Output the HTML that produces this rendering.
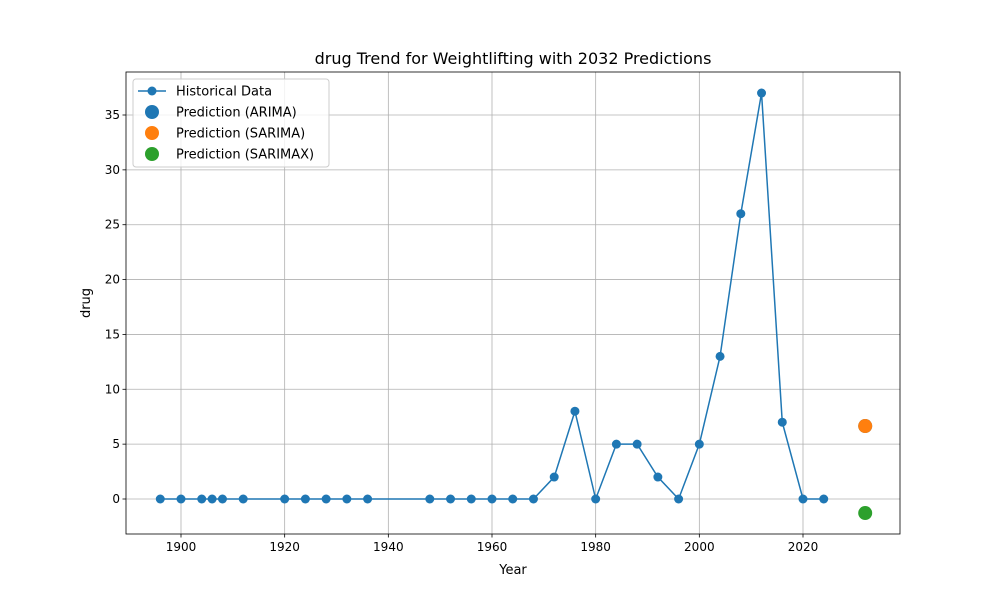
<!DOCTYPE html>
<html><head><meta charset="utf-8"><style>body{margin:0;background:#fff}svg{display:block;font-family:"DejaVu Sans","Liberation Sans",sans-serif}</style></head>
<body>
<svg id="c" width="1000" height="600"></svg>
<script>
const years=[1896,1900,1904,1906,1908,1912,1920,1924,1928,1932,1936,1948,1952,1956,1960,1964,1968,1972,1976,1980,1984,1988,1992,1996,2000,2004,2008,2012,2016,2020,2024];
const values=[0,0,0,0,0,0,0,0,0,0,0,0,0,0,0,0,0,2,8,0,5,5,2,0,5,13,26,37,7,0,0];
const predYear=2032;
const predArima=6.65;
const predSarima=6.65;
const predSarimax=-1.28;
const xTicks=[1900,1920,1940,1960,1980,2000,2020];
const yTicks=[0,5,10,15,20,25,30,35];
const L=126,R=900,T=72,B=534;
const xs=v=>181+(v-1900)*(622/120);
const ys=v=>499-v*(384/35);
const svg=document.getElementById('c');const NS='http://www.w3.org/2000/svg';
function mk(t,a,p){const e=document.createElementNS(NS,t);for(const k in a)e.setAttribute(k,a[k]);(p||svg).appendChild(e);return e;}
function txt(s,a){const e=mk('text',a);e.textContent=s;return e;}
let g;
xTicks.forEach(v=>{const x=xs(v);
g=mk('line',{x1:x,x2:x,y1:T,y2:B,stroke:'#b0b0b0','stroke-width':0.8});

mk('line',{x1:x,x2:x,y1:B,y2:B+3.5,stroke:'#000','stroke-width':0.8});
g=txt(v,{x:x,y:B+17,'font-size':12,'text-anchor':'middle',fill:'#000'});
});
yTicks.forEach(v=>{const y=ys(v);
g=mk('line',{x1:L,x2:R,y1:y,y2:y,stroke:'#b0b0b0','stroke-width':0.8});

mk('line',{x1:L-3.5,x2:L,y1:y,y2:y,stroke:'#000','stroke-width':0.8});
g=txt(v,{x:L-6,y:y+4,'font-size':12,'text-anchor':'end',fill:'#000'});
});
g=mk('rect',{x:L,y:T,width:R-L,height:B-T,fill:'none',stroke:'#000','stroke-width':0.8});

g=mk('polyline',{points:years.map((y,i)=>xs(y)+','+ys(values[i])).join(' '),fill:'none',stroke:'#1f77b4','stroke-width':1.5});

years.forEach((y,i)=>{g=mk('circle',{cx:xs(y),cy:ys(values[i]),r:4.5,fill:'#1f77b4'});
});
[[predArima,'#1f77b4','prediction-arima'],[predSarima,'#ff7f0e','prediction-sarima'],[predSarimax,'#2ca02c','prediction-sarimax']].forEach(p=>{
g=mk('circle',{cx:xs(predYear),cy:ys(p[0]),r:7,fill:p[1]});
});
g=txt('drug Trend for Weightlifting with 2032 Predictions',{x:(L+R)/2,y:64,'font-size':16,'text-anchor':'middle'});

g=txt('Year',{x:(L+R)/2,y:574,'font-size':13,'text-anchor':'middle'});

g=txt('drug',{x:90,y:303,'font-size':13,'text-anchor':'middle',transform:'rotate(-90 90 303)'});

const lg=mk('g',{});
mk('rect',{x:133,y:79,width:196,height:88,rx:3,fill:'#fff','fill-opacity':0.8,stroke:'#ccc'},lg);
const items=[['Historical Data','#1f77b4',1],['Prediction (ARIMA)','#1f77b4',0],['Prediction (SARIMA)','#ff7f0e',0],['Prediction (SARIMAX)','#2ca02c',0]];
items.forEach((it,i)=>{const y=91+i*21;
const e=mk('g',{},lg);
if(it[2]){mk('line',{x1:138,x2:166,y1:y,y2:y,stroke:it[1],'stroke-width':1.5},e);mk('circle',{cx:152,cy:y,r:4.5,fill:it[1]},e);}
else mk('circle',{cx:152,cy:y,r:7,fill:it[1]},e);
const t=mk('text',{x:176,y:y+4.5,'font-size':13},e);t.textContent=it[0];});
</script>
</body></html>
